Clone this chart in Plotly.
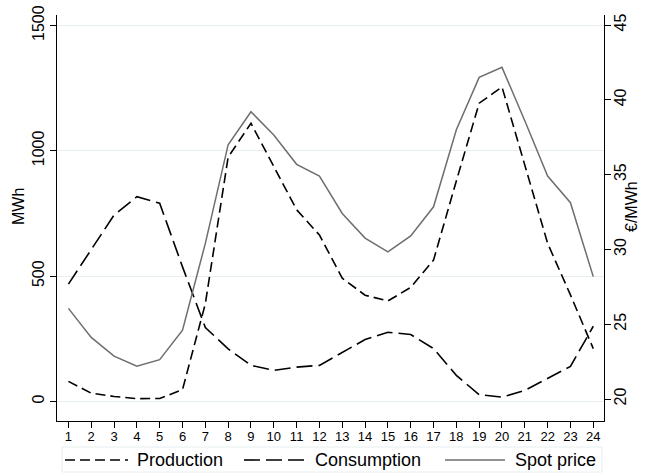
import plotly.graph_objects as go

hours = list(range(1, 25))
production = [80, 33, 20, 11, 12, 47, 390, 975, 1110, 940, 765, 664,
              492, 424, 401, 455, 564, 880, 1190, 1255, 940, 631, 425, 211]
consumption = [468, 607, 744, 817, 791, 537, 295, 210, 144, 124, 137, 144,
               197, 247, 276, 267, 211, 104, 27, 17, 44, 93, 140, 300]
spot_price = [26.06, 24.12, 22.87, 22.2, 22.63, 24.6, 30.4, 37.0, 39.2, 37.65, 35.69, 34.9,
              32.4, 30.76, 29.83, 30.9, 32.85, 38.0, 41.5, 42.17, 38.6, 34.9, 33.12, 28.18]
left_ticks = [0, 500, 1000, 1500]
right_ticks = [20, 25, 30, 35, 40, 45]
series_names = ["Production", "Consumption", "Spot price"]

W, H = 652, 474
ML, MR, MT, MB = 57, 48, 15, 53
PW, PH = W - ML - MR, H - MT - MB


def px(x):
    return (x - ML) / PW


def py(y):
    return (H - MB - y) / PH


FONT = "Liberation Sans, Arial, sans-serif"
GRID = "#e6eeef"
PROD_DASH = "10px,5px"
CONS_DASH = "16px,6px"
SPOT_COLOR = "#6e6e6e"

fig = go.Figure()
fig.add_trace(go.Scatter(x=hours, y=production, mode="lines", name=series_names[0],
                         line=dict(color="black", width=1.6, dash=PROD_DASH),
                         showlegend=False))
fig.add_trace(go.Scatter(x=hours, y=consumption, mode="lines", name=series_names[1],
                         line=dict(color="black", width=1.6, dash=CONS_DASH),
                         showlegend=False))
fig.add_trace(go.Scatter(x=hours, y=spot_price, mode="lines", name=series_names[2],
                         line=dict(color=SPOT_COLOR, width=1.5),
                         yaxis="y2", showlegend=False))

# custom legend (box, samples, labels)
shapes = [dict(type="rect", xref="paper", yref="paper",
               x0=px(62), x1=px(602), y0=py(472), y1=py(447),
               line=dict(color=GRID, width=1), fillcolor="rgba(0,0,0,0)")]
samples = [(65, 128, dict(color="black", width=1.6, dash=PROD_DASH)),
           (244, 305, dict(color="black", width=1.6, dash=CONS_DASH)),
           (445, 505, dict(color=SPOT_COLOR, width=1.5))]
for x0, x1, ln in samples:
    shapes.append(dict(type="line", xref="paper", yref="paper",
                       x0=px(x0), x1=px(x1), y0=py(460), y1=py(460), line=ln))

annotations = []
for name, xl in zip(series_names, [135, 313, 513]):
    annotations.append(dict(text=name, xref="paper", yref="paper", x=px(xl), y=py(460),
                            xanchor="left", yanchor="middle", showarrow=False,
                            font=dict(family=FONT, size=18, color="black")))
annotations.append(dict(text="MWh", xref="paper", yref="paper", x=px(18), y=py(207),
                        xanchor="center", yanchor="middle", showarrow=False, textangle=-90,
                        font=dict(family=FONT, size=16, color="black")))
annotations.append(dict(text="€/MWh", xref="paper", yref="paper", x=px(631), y=py(207),
                        xanchor="center", yanchor="middle", showarrow=False, textangle=-90,
                        font=dict(family=FONT, size=16, color="black")))

fig.update_layout(
    width=W, height=H,
    margin=dict(l=ML, r=MR, t=MT, b=MB, autoexpand=False),
    paper_bgcolor="white", plot_bgcolor="white",
    font=dict(family=FONT, color="black"),
    showlegend=False,
    shapes=shapes,
    annotations=annotations,
    xaxis=dict(range=[0.5, 24.47], tickmode="array", tickvals=hours,
               ticktext=[str(h) for h in hours],
               ticks="outside", ticklen=6, tickcolor="black", tickwidth=1,
               showline=True, linecolor="black", linewidth=1,
               showgrid=False, zeroline=False, ticklabelstandoff=-3,
               tickfont=dict(family=FONT, size=13, color="black")),
    yaxis=dict(range=[-78, 1542], tickmode="array", tickvals=left_ticks,
               ticks="outside", ticklen=6, tickcolor="black", tickwidth=1,
               showline=True, linecolor="black", linewidth=1,
               showgrid=True, gridcolor=GRID, gridwidth=1, zeroline=False,
               tickangle=-90,
               tickfont=dict(family=FONT, size=16, color="black")),
    yaxis2=dict(range=[18.53, 45.67], tickmode="array", tickvals=right_ticks,
                overlaying="y", side="right",
                ticks="outside", ticklen=6, tickcolor="black", tickwidth=1,
                showline=True, linecolor="black", linewidth=1,
                showgrid=False, zeroline=False, tickangle=-90, ticklabelstandoff=-4,
                tickfont=dict(family=FONT, size=16, color="black")),
)

fig.write_html("out.html", config={"displayModeBar": False},
               post_script="document.body.style.margin='0';document.body.style.padding='0';")
